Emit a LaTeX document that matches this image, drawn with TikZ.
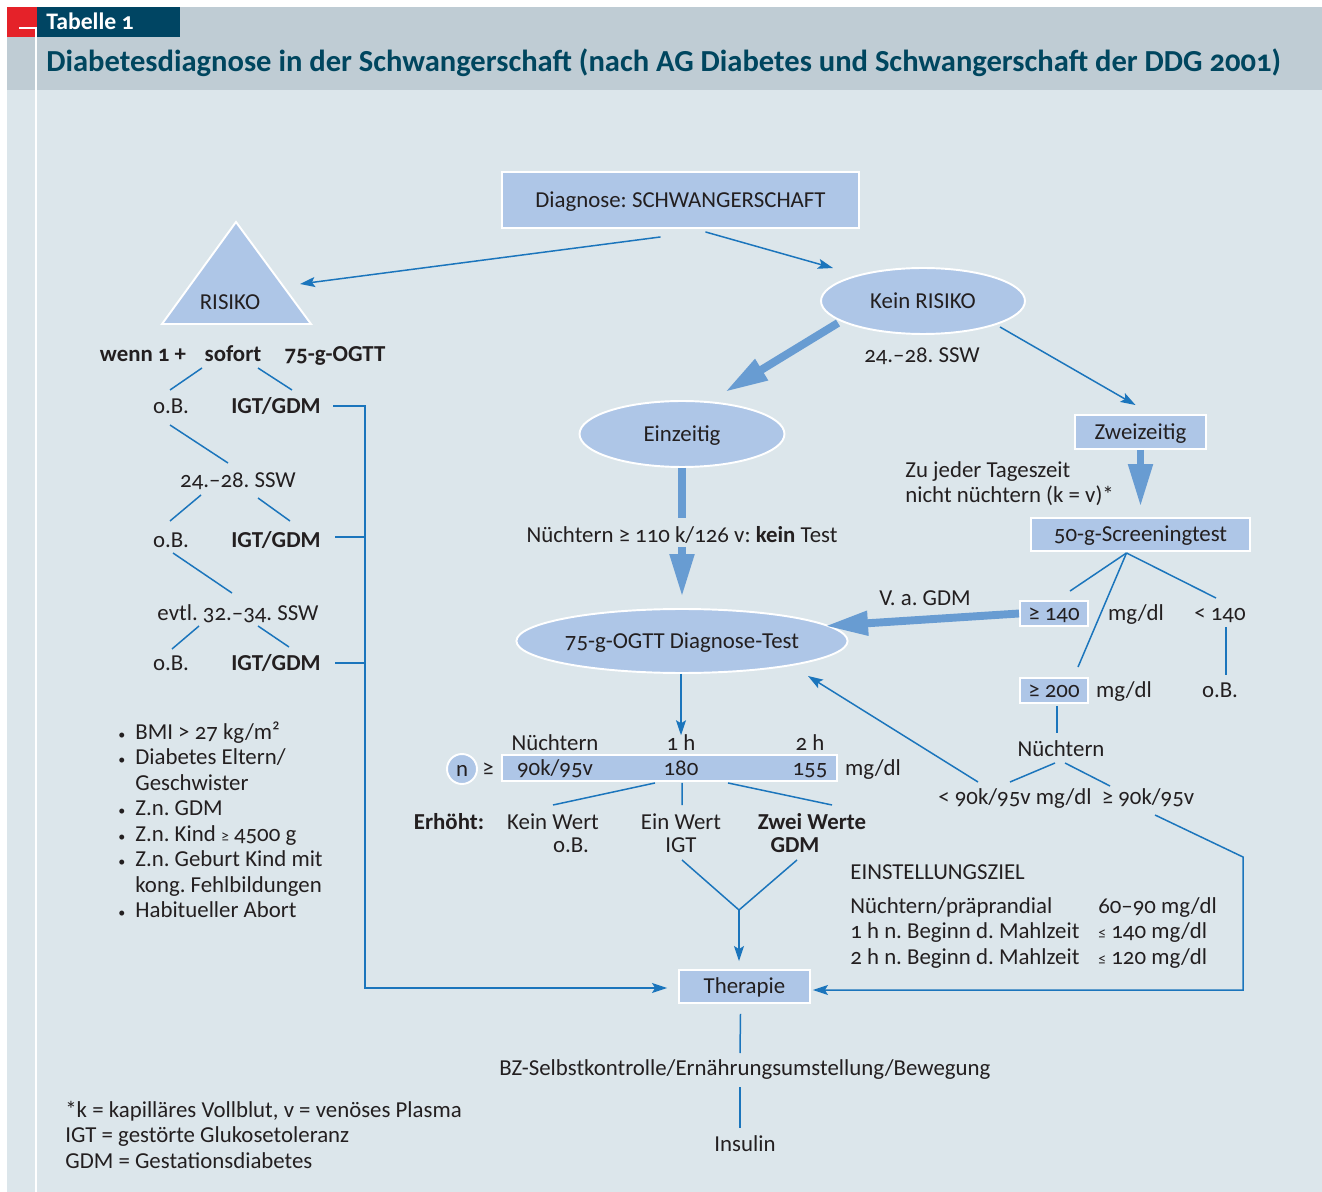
\documentclass[tikz,border=0pt]{standalone}
\usepackage{fontspec}
\setmainfont{Carlito}[Numbers=OldStyle]
\usetikzlibrary{arrows.meta, positioning, calc, shapes.geometric}
\frenchspacing

\definecolor{bgblue}{HTML}{DCE6EB}
\definecolor{headgray}{HTML}{BFCCD4}
\definecolor{tabred}{HTML}{E52229}
\definecolor{tabdark}{HTML}{004563}
\definecolor{titleblue}{HTML}{00465F}
\definecolor{boxblue}{HTML}{AEC6E7}
\definecolor{lineblue}{HTML}{1B75BC}
\definecolor{fatblue}{HTML}{689CD2}
\definecolor{textdark}{HTML}{231F20}

\tikzstyle{txt} = [inner sep=0pt, text=textdark, text height=8.4pt, text depth=0pt,
   font=\fontsize{13}{14.5}\selectfont]
\tikzstyle{boldtxt} = [txt, font=\fontsize{13}{14.5}\selectfont\bfseries]
\tikzstyle{para} = [inner sep=0pt, text=textdark, anchor=north west,
   font=\fontsize{13}{14.5}\selectfont]
\tikzstyle{box} = [txt, rectangle, draw=white, line width=1.1pt, fill=boxblue]
\tikzstyle{oval} = [box, ellipse]
\tikzstyle{thinLine} = [draw=lineblue, line width=0.85pt]
\tikzstyle{thinArrow} = [thinLine, -{Stealth[length=0.3cm,width=0.2cm,inset=0.06cm]}]
\tikzstyle{fatLine} = [draw=fatblue, line width=4.5pt]
\tikzstyle{fatArrow} = [fatLine, -{Triangle[length=0.86cm,width=0.46cm]}]
\newcommand{\riskdot}{\makebox[0.34cm][l]{\footnotesize •}}

\begin{document}
\begin{tikzpicture}[x=0.02cm, y=-0.02cm]
\useasboundingbox (0,0) rectangle (1322,1192);

% background and header
\fill[bgblue] (7,7) rectangle (1322,1192);
\fill[headgray] (7,7) rectangle (1322,90);
\fill[tabred] (7,7) rectangle (37,37);
\fill[tabdark] (37,7) rectangle (180,37);
\draw[white, line width=0.8pt] (19,28) -- (36,28) -- (36,1192);
\node[anchor=west, inner sep=0pt, text=white, font=\fontsize{13.5}{15}\selectfont\bfseries] (tab) at (46,21) {Tabelle 1};
\node[anchor=west, inner sep=0pt, text=titleblue, font=\fontsize{17.4}{20}\selectfont\bfseries] (title) at (46,63)
  {Diabetesdiagnose in der Schwangerschaft (nach AG Diabetes und Schwangerschaft der DDG 2001)};

% top of the flow
\node[box, minimum width=7.14cm, minimum height=1.12cm] (diag) at (680.5,200) {Diagnose: SCHWANGERSCHAFT};
\draw[white, line width=1.1pt, fill=boxblue] (236,222) -- (311,324) -- (162,324) -- cycle;
\node[txt] (risiko) at (230,302) {RISIKO};
\node[oval, minimum width=4.08cm, minimum height=1.32cm] (kein) at (923,301) {Kein RISIKO};
\node[txt] (ssw0) at (922,355) {24.--28. SSW};

% risk branch
\node[boldtxt] (wenn) at (143,354) {wenn 1 +};
\node[boldtxt] (sofort) at (233,354) {sofort};
\node[boldtxt] (ogtt75) at (335,354) {75-g-OGTT};
\node[txt] (ob1) at (171,406) {o.B.};
\node[boldtxt] (igt1) at (276,406) {IGT/GDM};
\node[txt] (ssw1) at (238,480) {24.--28. SSW};
\node[txt] (ob2) at (171,540) {o.B.};
\node[boldtxt] (igt2) at (276,540) {IGT/GDM};
\node[txt] (ssw2) at (238,613) {evtl. 32.--34. SSW};
\node[txt] (ob3) at (171,663) {o.B.};
\node[boldtxt] (igt3) at (276,663) {IGT/GDM};

\node[para] (risks) at (118,721) {\begin{tabular}{@{}l@{}l@{}}
  \riskdot & BMI > 27 kg/m² \\
  \riskdot & Diabetes Eltern/ \\
   & Geschwister \\
  \riskdot & Z.n. GDM \\
  \riskdot & Z.n. Kind {\small ≥} 4500 g \\
  \riskdot & Z.n. Geburt Kind mit \\
   & kong. Fehlbildungen \\
  \riskdot & Habitueller Abort
\end{tabular}};

% no risk branch
\node[oval, minimum width=4.1cm, minimum height=1.32cm] (einz) at (682,434) {Einzeitig};
\node[box, minimum width=2.62cm, minimum height=0.68cm] (zwei) at (1140.5,432) {Zweizeitig};
\node[para] (jeder) at (905,459) {\begin{tabular}{@{}l@{}}
  Zu jeder Tageszeit \\ nicht nüchtern (k = v)*
\end{tabular}};
\node[box, minimum width=4.38cm, minimum height=0.66cm] (screen) at (1140.5,534.5) {50-g-Screeningtest};
\node[txt] (nkt) at (682,535) {Nüchtern ≥ 110 k/126 v: \textbf{kein} Test};
\node[oval, minimum width=6.18cm, minimum height=1.28cm] (ogtt) at (682,641) {75-g-OGTT Diagnose-Test};

\node[txt] (vagdm) at (925,598) {V. a. GDM};
\node[box, minimum width=1.36cm, minimum height=0.5cm] (ge140) at (1054,613.5) {≥ 140};
\node[txt] (mg1) at (1136,613) {mg/dl};
\node[txt] (lt140) at (1220,613) {< 140};
\node[box, minimum width=1.36cm, minimum height=0.5cm] (ge200) at (1054,690.5) {≥ 200};
\node[txt] (mg2) at (1124,690) {mg/dl};
\node[txt] (ob4) at (1220,690) {o.B.};
\node[txt] (nuech) at (1061,749) {Nüchtern};
\node[txt] (lt90) at (1015,797) {< 90k/95v mg/dl};
\node[txt] (ge90) at (1148,797) {≥ 90k/95v};

% values of the OGTT
\node[box, minimum width=6.7cm, minimum height=0.52cm] (bar) at (669.5,768) {};
\node[txt] (vn) at (555,768) {90k/95v};
\node[txt] (v1) at (681,768) {180};
\node[txt] (v2) at (810,768) {155};
\node[txt] (hn) at (555,743) {Nüchtern};
\node[txt] (h1) at (681,743) {1 h};
\node[txt] (h2) at (810,743) {2 h};
\node[txt] (mg3) at (873,768) {mg/dl};
\node[box, circle, minimum size=0.6cm] (n) at (462,769) {n};
\node[txt] (geq) at (488,768) {≥};

\node[boldtxt] (erh) at (449,822) {Erhöht:};
\node[txt] (kw) at (553,822) {Kein Wert};
\node[txt] (kwob) at (571,845) {o.B.};
\node[txt] (ew) at (681,822) {Ein Wert};
\node[txt] (ewigt) at (681,845) {IGT};
\node[boldtxt] (zw) at (812,822) {Zwei Werte};
\node[boldtxt] (zwgdm) at (795,845) {GDM};
\coordinate (vtx) at (739,910);

% therapy
\node[box, minimum width=2.62cm, minimum height=0.66cm] (ther) at (744.5,986.5) {Therapie};
\node[txt] (bz) at (745,1068) {BZ-Selbstkontrolle/Ernährungsumstellung/Bewegung};
\node[txt] (ins) at (745,1144) {Insulin};

\node[txt, anchor=west] (einst) at (850,872) {EINSTELLUNGSZIEL};
\node[para] (ziel) at (850,895) {\begin{tabular}{@{}p{4.96cm}@{}l@{}}
  Nüchtern/präprandial & 60--90 mg/dl \\
  1 h n. Beginn d. Mahlzeit & {\small ≤} 140 mg/dl \\
  2 h n. Beginn d. Mahlzeit & {\small ≤} 120 mg/dl
\end{tabular}};

\node[para] (notes) at (65,1099) {\begin{tabular}{@{}l@{}}
  *k = kapilläres Vollblut, v = venöses Plasma \\
  IGT = gestörte Glukosetoleranz \\
  GDM = Gestationsdiabetes
\end{tabular}};

% connectors: top
\draw[thinArrow] ([shift={(-20,8)}]diag.south) -- ([shift={(70,-18)}]risiko.center);
\draw[thinArrow] ([shift={(25,3)}]diag.south) -- ([shift={(-90,-33)}]kein.center);
\draw[fatArrow] ([shift={(-85,22)}]kein.center) -- ([shift={(43,-42)}]einz.center);
\draw[thinArrow] ([shift={(77,26)}]kein.center) -- ([shift={(-5,-9)}]zwei.north);
\draw[fatArrow, shorten >=0.2cm] (zwei.south) -- (screen.north);
\draw[fatLine] (einz.south) -- ([shift={(0,-17)}]nkt.center);
\draw[fatArrow, shorten >=0.22cm] ([shift={(0,12)}]nkt.center) -- (ogtt.north);

% connectors: screening
\draw[fatArrow] (ge140.west) -- ([shift={(143,-15)}]ogtt.center);
\draw[thinLine] ([shift={(-14,1)}]screen.south) -- ([shift={(16,-9)}]ge140.north);
\draw[thinLine] ([shift={(-14,1)}]screen.south) -- ([shift={(24,-10)}]ge200.north);
\draw[thinLine] ([shift={(-14,1)}]screen.south) -- ([shift={(-4,-15)}]lt140.center);
\draw[thinLine] ([shift={(6,14)}]lt140.center) -- ([shift={(6,-15)}]ob4.center);
\draw[thinLine] ([shift={(3,2)}]ge200.south) -- ([shift={(-4,-16)}]nuech.center);
\draw[thinLine] ([shift={(-6,14)}]nuech.center) -- ([shift={(-5,-15)}]lt90.center);
\draw[thinLine] ([shift={(4,14)}]nuech.center) -- ([shift={(-38,-11)}]ge90.center);
\draw[thinArrow] ([shift={(-37,-15)}]lt90.center) -- ([shift={(126,35)}]ogtt.center);
\draw[thinArrow] ([shift={(7,18)}]ge90.center) -- ++(88,42) |- ([shift={(2,3.5)}]ther.east);

% connectors: OGTT values
\draw[thinArrow] (ogtt.south -| h1.north) -- (h1.north);
\draw[thinLine] ([shift={(-14.5,1)}]bar.south) -- ([shift={(0,-17)}]kw.center);
\draw[thinLine] ([shift={(12.5,1)}]bar.south) -- ([shift={(1,-17)}]ew.center);
\draw[thinLine] ([shift={(58.5,1)}]bar.south) -- ([shift={(20,-17)}]zw.center);
\draw[thinLine] ([shift={(1,15)}]ewigt.center) -- (vtx);
\draw[thinLine] ([shift={(2,15)}]zwgdm.center) -- (vtx);
\draw[thinArrow, shorten >=0.16cm] (vtx) -- (vtx |- ther.north);
\draw[thinLine] ([shift={(-4,10)}]ther.south) -- ([shift={(-5,-15)}]bz.center);
\draw[thinLine] ([shift={(-5,19)}]bz.center) -- ([shift={(-5,-16)}]ins.center);

% connectors: risk tree
\draw[thinLine] ([shift={(-31,14)}]sofort.center) -- ([shift={(-1,-16)}]ob1.center);
\draw[thinLine] ([shift={(25,14)}]sofort.center) -- ([shift={(16,-16)}]igt1.center);
\draw[thinLine] ([shift={(-1,19)}]ob1.center) -- ([shift={(-10,-17)}]ssw1.center);
\draw[thinLine] ([shift={(-37,15)}]ssw1.center) -- ([shift={(-1,-19)}]ob2.center);
\draw[thinLine] ([shift={(20,18)}]ssw1.center) -- ([shift={(14,-19)}]igt2.center);
\draw[thinLine] ([shift={(2,13)}]ob2.center) -- ([shift={(-6,-20)}]ssw2.center);
\draw[thinLine] ([shift={(-39,13)}]ssw2.center) -- ([shift={(1,-14)}]ob3.center);
\draw[thinLine] ([shift={(20,13)}]ssw2.center) -- ([shift={(13,-16)}]igt3.center);
\draw[thinArrow] ([shift={(57,0)}]igt1.center) -- ++(32,0) |- ([shift={(-11,1.5)}]ther.west);
\draw[thinLine] ([shift={(59,-3)}]igt2.center) -- ++(30,0);
\draw[thinLine] ([shift={(59,0)}]igt3.center) -- ++(30,0);
\end{tikzpicture}
\end{document}
